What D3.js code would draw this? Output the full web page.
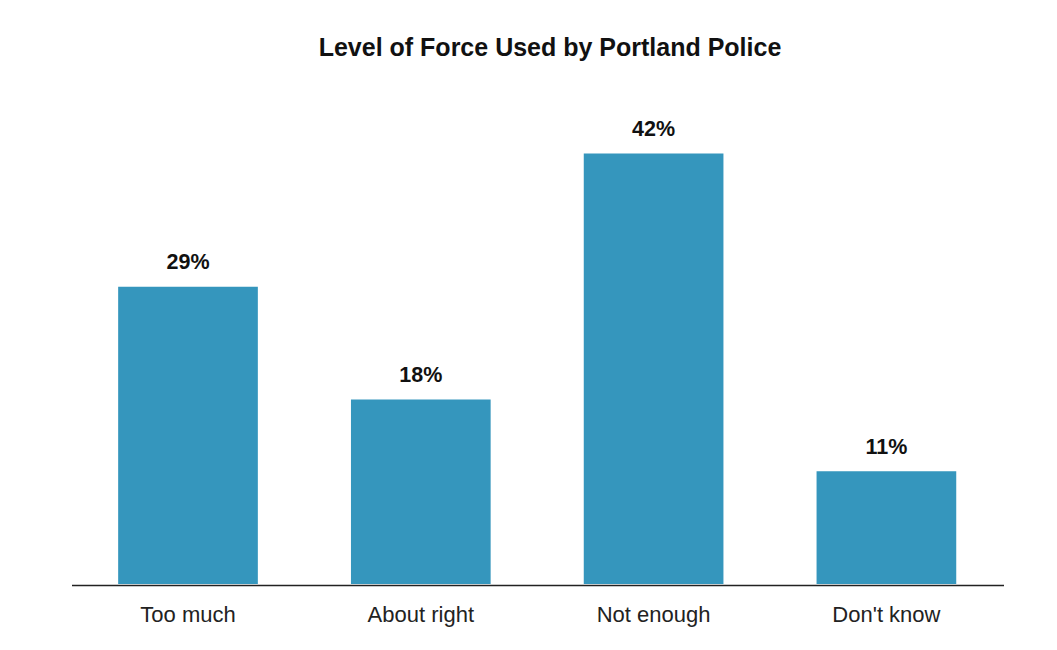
<!DOCTYPE html>
<html>
<head>
<meta charset="utf-8">
<script src="https://cdn.jsdelivr.net/npm/d3@7"></script>
<style>
  html, body { margin: 0; padding: 0; background: #fff; }
  svg { display: block; }
</style>
</head>
<body>
<svg id="chart" width="1057" height="650"></svg>
<script>
const categories = ["Too much", "About right", "Not enough", "Don't know"];
const values = [29, 18, 42, 11];
const title = "Level of Force Used by Portland Police";

const W = 1057, H = 650;
const margin = { left: 71.6, right: 54.2, top: 71.5, bottom: 66 };
const axisLeft = 72, axisRight = 1004;
const svg = d3.select("#chart");
const font = "'Liberation Sans', Arial, Helvetica, sans-serif";

const x = d3.scaleBand()
  .domain(categories)
  .range([margin.left, W - margin.right])
  .paddingInner(0.4)
  .paddingOuter(0.2);

const y = d3.scaleLinear()
  .domain([0, 50])
  .range([H - margin.bottom, margin.top]);

svg.append("text")
  .attr("x", 550)
  .attr("y", 56)
  .attr("text-anchor", "middle")
  .attr("font-family", font)
  .attr("font-weight", "bold")
  .attr("font-size", "25px")
  .attr("fill", "#111")
  .text(title);

const data = categories.map((c, i) => ({ c, v: values[i] }));

svg.selectAll("rect.bar")
  .data(data)
  .join("rect")
  .attr("class", "bar")
  .attr("x", d => x(d.c))
  .attr("width", x.bandwidth())
  .attr("y", d => y(d.v))
  .attr("height", d => y(0) - y(d.v))
  .attr("fill", "#3596bd");

svg.selectAll("text.val")
  .data(data)
  .join("text")
  .attr("class", "val")
  .attr("x", d => x(d.c) + x.bandwidth() / 2)
  .attr("y", d => y(d.v) - 17.3)
  .attr("text-anchor", "middle")
  .attr("font-family", font)
  .attr("font-weight", "bold")
  .attr("font-size", "21.5px")
  .attr("fill", "#111")
  .text(d => d.v + "%");

const xAxis = d3.axisBottom(x).tickSize(0).tickPadding(0);
const gx = svg.append("g")
  .attr("transform", `translate(0,${y(0) + 1})`)
  .call(xAxis);
gx.select(".domain")
  .attr("d", `M${axisLeft},0.5H${axisRight}`)
  .attr("stroke", "#222")
  .attr("stroke-width", 1.6);
gx.selectAll(".tick text")
  .attr("font-family", font)
  .attr("font-size", "22px")
  .attr("fill", "#222")
  .attr("dy", null)
  .attr("y", 36.5);
</script>
</body>
</html>
